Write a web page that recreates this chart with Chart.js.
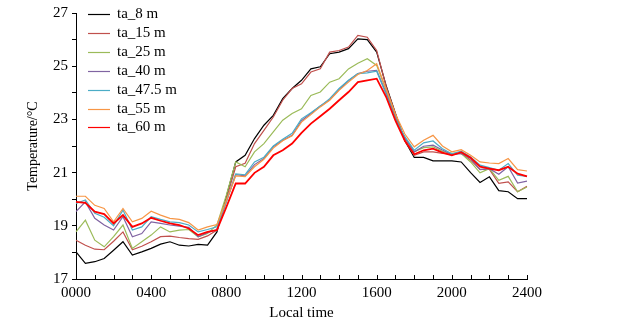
<!DOCTYPE html>
<html>
<head>
<meta charset="utf-8">
<script src="https://cdn.jsdelivr.net/npm/chart.js@4.4.1/dist/chart.umd.min.js"></script>
<style>
html,body{margin:0;padding:0;background:#fff;}
#wrap{width:630px;height:323px;position:relative;}
</style>
</head>
<body>
<div id="wrap"><canvas id="c" width="630" height="323"></canvas></div>
<script>
const timeLabels = ["0000","0030","0100","0130","0200","0230","0300","0330","0400","0430","0500","0530","0600","0630","0700","0730",
"0800","0830","0900","0930","1000","1030","1100","1130","1200","1230","1300","1330","1400","1430","1500","1530",
"1600","1630","1700","1730","1800","1830","1900","1930","2000","2030","2100","2130","2200","2230","2300","2330","2400"];
const seriesNames = ["ta_8 m","ta_15 m","ta_25 m","ta_40 m","ta_47.5 m","ta_55 m","ta_60 m"];
const ta8 = [18.02,17.59,17.65,17.77,18.08,18.40,17.90,18.02,18.15,18.31,18.40,18.27,18.24,18.30,18.27,18.77,
20.10,21.40,21.65,22.28,22.78,23.15,23.78,24.16,24.47,24.90,24.98,25.47,25.53,25.66,26.03,26.00,
25.53,24.28,23.22,22.20,21.57,21.57,21.44,21.44,21.44,21.40,21.00,20.63,20.84,20.32,20.28,20.02,20.02];
const ta15 = [18.46,18.27,18.12,18.10,18.42,18.77,18.10,18.23,18.40,18.59,18.61,18.56,18.52,18.49,18.62,18.84,
20.00,21.22,21.35,22.09,22.59,23.09,23.72,24.16,24.34,24.78,24.90,25.53,25.59,25.72,26.16,26.09,
25.59,24.25,23.20,22.20,21.65,21.78,21.78,21.72,21.69,21.72,21.47,21.12,21.12,20.60,20.65,20.28,20.49];
const ta25 = [18.77,19.21,18.46,18.21,18.59,19.03,18.15,18.40,18.65,18.96,18.77,18.84,18.86,18.59,18.71,19.03,
20.15,21.40,21.22,21.78,22.09,22.53,22.97,23.22,23.40,23.90,24.03,24.40,24.53,24.90,25.11,25.28,
25.03,24.10,23.10,22.30,21.78,21.94,21.97,21.80,21.72,21.72,21.40,20.99,21.15,20.71,20.86,20.28,20.46];
const ta40 = [19.53,19.90,19.28,19.03,18.84,19.34,18.59,18.71,19.15,19.09,19.03,18.99,18.94,18.59,18.74,18.86,
19.90,20.92,20.88,21.30,21.53,21.97,22.22,22.40,22.95,23.22,23.50,23.74,24.12,24.45,24.72,24.81,
24.84,24.00,23.05,22.30,21.78,21.99,22.03,21.85,21.68,21.72,21.53,21.11,21.15,20.94,21.22,20.61,20.68];
const ta47 = [19.84,19.97,19.47,19.32,19.00,19.59,18.84,18.96,19.34,19.24,19.15,19.12,19.03,18.77,18.86,18.96,
19.90,20.95,20.92,21.40,21.58,22.00,22.25,22.48,23.02,23.25,23.50,23.78,24.16,24.47,24.72,24.75,
24.81,23.95,23.00,22.35,21.84,22.12,22.19,21.90,21.71,21.81,21.59,21.28,21.19,21.09,21.34,20.90,20.86];
const ta55 = [20.11,20.11,19.77,19.65,19.15,19.65,19.15,19.28,19.55,19.40,19.28,19.24,19.12,18.84,18.96,19.05,
19.95,20.88,20.85,21.22,21.50,21.92,22.20,22.38,22.90,23.18,23.47,23.72,24.09,24.40,24.69,24.84,
25.09,24.15,23.20,22.45,21.97,22.22,22.40,22.00,21.78,21.86,21.65,21.40,21.36,21.34,21.53,21.11,21.06];
const ta60 = [19.90,19.86,19.53,19.44,19.09,19.40,18.96,19.09,19.30,19.19,19.09,19.03,18.90,18.65,18.77,18.84,
19.70,20.59,20.59,20.99,21.22,21.65,21.84,22.09,22.49,22.84,23.12,23.40,23.72,24.03,24.40,24.47,
24.53,23.85,22.95,22.20,21.69,21.84,21.90,21.75,21.65,21.77,21.56,21.22,21.15,21.09,21.22,20.96,20.86];
const seriesValues = [ta8, ta15, ta25, ta40, ta47, ta55, ta60];
const seriesColors = ["#000000","#c0504d","#9bbb59","#8064a2","#4bacc6","#f79646","#ff0000"];
const seriesWidths = [1.2,1.2,1.2,1.2,1.2,1.2,1.8];
const yMin = 17, yMax = 27;

const FONT = "'Liberation Serif','Times New Roman',serif";

const innerTicks = {
  id: 'innerTicks',
  afterDraw(chart) {
    const ctx = chart.ctx, xs = chart.scales.x, area = chart.chartArea;
    ctx.save();
    ctx.strokeStyle = '#000';
    ctx.lineWidth = 1;
    ctx.beginPath();
    for (let i = 0; i < timeLabels.length; i += 2) {
      const x = Math.round(xs.getPixelForValue(i)) + 0.5;
      ctx.moveTo(x, area.bottom);
      ctx.lineTo(x, area.bottom - 4);
    }
    ctx.stroke();
    ctx.restore();
  }
};

const customLegend = {
  id: 'customLegend',
  afterDraw(chart) {
    const ctx = chart.ctx;
    ctx.save();
    ctx.font = "15px " + FONT;
    ctx.textBaseline = 'middle';
    chart.data.datasets.forEach((ds, i) => {
      const y = Math.round(14 + i * 18.9) + 0.5;
      ctx.strokeStyle = seriesColors[i];
      ctx.lineWidth = 1.2;
      ctx.beginPath();
      ctx.moveTo(88, y);
      ctx.lineTo(110, y);
      ctx.stroke();
      ctx.fillStyle = '#000';
      ctx.fillText(ds.label, 117, y);
    });
    ctx.restore();
  }
};

new Chart(document.getElementById('c'), {
  type: 'line',
  data: {
    labels: timeLabels,
    datasets: seriesNames.map((n, i) => ({
      label: n,
      data: seriesValues[i],
      borderColor: seriesColors[i],
      backgroundColor: seriesColors[i],
      borderWidth: seriesWidths[i],
      pointRadius: 0,
      tension: 0,
      fill: false,
      order: seriesNames.length - i
    }))
  },
  options: {
    responsive: false,
    animation: false,
    events: [],
    layout: { padding: { top: 12, right: 103, left: 0, bottom: 0 } },
    plugins: { legend: { display: false }, tooltip: { enabled: false } },
    scales: {
      x: {
        type: 'category',
        offset: false,
        afterFit(s) { s.height = 44; },
        grid: { display: false, drawTicks: false },
        border: { display: true, color: '#000', width: 1 },
        ticks: {
          autoSkip: false, maxRotation: 0, minRotation: 0, padding: 5,
          color: '#000', font: { family: FONT, size: 15 },
          callback(v, i) { return i % 8 === 0 ? timeLabels[i] : ''; }
        },
        title: { display: true, text: 'Local time', color: '#000',
                 font: { family: FONT, size: 15 }, padding: { top: 0, bottom: 1 } }
      },
      y: {
        min: yMin, max: yMax,
        afterFit(s) { s.width = 76; },
        grid: { drawOnChartArea: false, drawTicks: true, tickLength: 4, color: '#000' },
        border: { display: true, color: '#000', width: 1 },
        ticks: {
          stepSize: 1, padding: 4, color: '#000', font: { family: FONT, size: 15 },
          callback(v) { return (v % 2 === 1) ? String(v) : ''; }
        },
        title: { display: true, text: 'Temperature/°C', color: '#000',
                 font: { family: FONT, size: 14 }, padding: { top: 25, bottom: 0 } }
      }
    }
  },
  plugins: [innerTicks, customLegend]
});
</script>
</body>
</html>
